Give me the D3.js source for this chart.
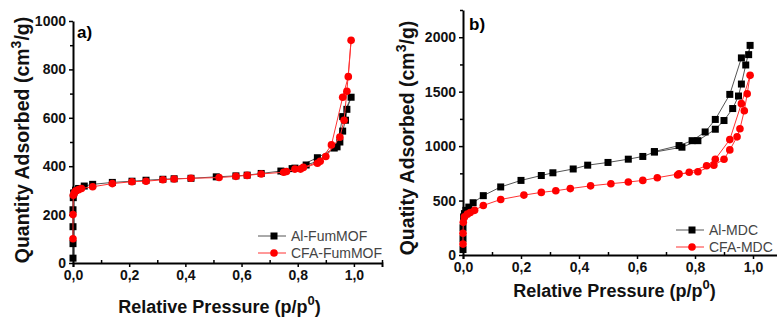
<!DOCTYPE html>
<html>
<head>
<meta charset="utf-8">
<script src="https://cdn.jsdelivr.net/npm/d3@7"></script>
<style>
  body { margin: 0; background: #fff; }
  svg { display: block; font-family: "Liberation Sans", Arial, sans-serif; }
</style>
</head>
<body>
<div class="canvas"></div>
<script>
// isotherm data, [p/p0, quantity] — adsorption then desorption branch
const alFumMOF = [
  [0.000, 20], [0.000, 80], [0.000, 150], [0.000, 220], [0.001, 270], [0.003, 290],
  [0.009, 301], [0.02, 308], [0.04, 318], [0.07, 325], [0.14, 333], [0.21, 338],
  [0.26, 342], [0.32, 346], [0.36, 348], [0.42, 350], [0.51, 356], [0.58, 360],
  [0.62, 363], [0.67, 370], [0.74, 380], [0.78, 390], [0.83, 405], [0.87, 420],
  [0.93, 475], [0.95, 500], [0.96, 545], [0.97, 590], [0.975, 635], [0.99, 685],
  [0.96, 605], [0.94, 480], [0.87, 435], [0.79, 392], [0.75, 378]
];
const cfaFumMOF = [
  [0.000, 100], [0.000, 200], [0.001, 280], [0.005, 290], [0.01, 298], [0.02, 303],
  [0.03, 308], [0.07, 315], [0.14, 328], [0.21, 336], [0.26, 338], [0.32, 344],
  [0.36, 347], [0.42, 350], [0.52, 353], [0.58, 358], [0.62, 362], [0.67, 368],
  [0.75, 375], [0.79, 388], [0.81, 388], [0.87, 412], [0.90, 440], [0.95, 520],
  [0.965, 590], [0.975, 710], [0.99, 920], [0.98, 770], [0.96, 685], [0.92, 488],
  [0.88, 420], [0.82, 395], [0.76, 378]
];
const alMDC = [
  [0.000, 50], [0.000, 150], [0.000, 250], [0.002, 350], [0.005, 380], [0.01, 410],
  [0.02, 440], [0.035, 480], [0.07, 545], [0.13, 625], [0.2, 685], [0.27, 730],
  [0.31, 755], [0.38, 790], [0.43, 825], [0.5, 850], [0.57, 880], [0.62, 905],
  [0.66, 945], [0.755, 990], [0.81, 1050], [0.87, 1155], [0.9, 1235], [0.93, 1345],
  [0.95, 1460], [0.96, 1570], [0.975, 1745], [0.99, 1925], [0.985, 1840], [0.96, 1810],
  [0.92, 1475], [0.87, 1245], [0.835, 1130], [0.79, 1050], [0.745, 1005], [0.66, 950]
];
const cfaMDC = [
  [0.000, 100], [0.000, 200], [0.001, 300], [0.005, 350], [0.015, 375], [0.025, 390],
  [0.04, 410], [0.07, 455], [0.13, 510], [0.21, 550], [0.27, 575], [0.32, 590],
  [0.37, 610], [0.44, 635], [0.51, 655], [0.57, 670], [0.62, 685], [0.67, 710],
  [0.745, 745], [0.81, 765], [0.865, 825], [0.9, 880], [0.92, 965], [0.945, 1085],
  [0.955, 1160], [0.97, 1325], [0.98, 1480], [0.99, 1650], [0.96, 1390], [0.92, 1060],
  [0.87, 880], [0.84, 820], [0.78, 760], [0.74, 735]
];

const xTicks = [0, 0.2, 0.4, 0.6, 0.8, 1.0];
const yTicksA = [0, 200, 400, 600, 800, 1000];
const yTicksB = [0, 500, 1000, 1500, 2000];

const svg = d3.select('.canvas')
  .append('svg')
    .attr('width', 777)
    .attr('height', 325);

const comma = d => d3.format('.1f')(d).replace('.', ',');

function drawPanel(p) {
  const x = d3.scaleLinear().domain([0, 1.1]).range([p.left, p.right]);
  const y = d3.scaleLinear().domain([0, p.yMax]).range([p.bottom, p.top]);

  const g = svg.append('g');

  // x axis
  const xAxis = g.append('g')
    .attr('transform', `translate(0,${p.bottom})`)
    .call(d3.axisBottom(x).tickValues(xTicks).tickFormat(comma).tickSize(4).tickPadding(3));
  g.append('g')
    .attr('transform', `translate(0,${p.bottom})`)
    .call(d3.axisBottom(x).tickValues([0.1, 0.3, 0.5, 0.7, 0.9, 1.1]).tickFormat('').tickSize(-3).tickSizeOuter(0))
    .call(a => a.select('.domain').remove());

  // y axis
  const yAxis = g.append('g')
    .attr('transform', `translate(${p.left},0)`)
    .call(d3.axisLeft(y).tickValues(p.yTicks).tickFormat(d3.format('d')).tickSize(4).tickSizeOuter(0).tickPadding(3));
  g.append('g')
    .attr('transform', `translate(${p.left},0)`)
    .call(d3.axisLeft(y).tickValues(p.yMinor).tickFormat('').tickSize(3).tickSizeOuter(0))
    .call(a => a.select('.domain').remove());

  [xAxis, yAxis].forEach(a => {
    a.select('.domain').attr('stroke', '#000').attr('stroke-width', 2);
    a.selectAll('text').attr('font-size', 14).attr('font-weight', 'bold').attr('fill', '#111')
      .attr('font-family', '"Liberation Sans", Arial, sans-serif');
  });
  g.selectAll('.tick line').attr('stroke', '#000').attr('stroke-width', 1.5);

  // series
  const line = d3.line().x(d => x(d[0])).y(d => y(d[1]));
  p.series.forEach(s => {
    g.append('path')
      .datum(s.data)
      .attr('fill', 'none')
      .attr('stroke', s.line)
      .attr('stroke-width', 1)
      .attr('d', line);
    if (s.shape === 'square') {
      g.selectAll(null).data(s.data).enter().append('rect')
        .attr('x', d => x(d[0]) - 3.5).attr('y', d => y(d[1]) - 3.5)
        .attr('width', 7).attr('height', 7)
        .attr('fill', s.color);
    } else {
      g.selectAll(null).data(s.data).enter().append('circle')
        .attr('cx', d => x(d[0])).attr('cy', d => y(d[1]))
        .attr('r', 3.8)
        .attr('fill', s.color);
    }
  });

  // legend
  p.series.forEach((s, i) => {
    const ly = p.legendY + i * 17;
    g.append('line')
      .attr('x1', p.legendX - 16).attr('x2', p.legendX + 12)
      .attr('y1', ly).attr('y2', ly)
      .attr('stroke', s.line).attr('stroke-width', 1);
    if (s.shape === 'square') {
      g.append('rect').attr('x', p.legendX - 3.5).attr('y', ly - 3.5)
        .attr('width', 7).attr('height', 7).attr('fill', s.color);
    } else {
      g.append('circle').attr('cx', p.legendX).attr('cy', ly).attr('r', 3.8).attr('fill', s.color);
    }
    g.append('text')
      .attr('x', p.legendX + 17).attr('y', ly + 5)
      .attr('font-size', 14).attr('fill', '#444')
      .text(s.name);
  });

  // panel letter
  g.append('text')
    .attr('x', p.letterX).attr('y', p.letterY)
    .attr('font-size', 17).attr('font-weight', 'bold')
    .text(p.letter);

  // x title
  const xt = g.append('text')
    .attr('x', (p.left + p.right) / 2 - 8).attr('y', p.xTitleY)
    .attr('text-anchor', 'middle')
    .attr('font-size', 18).attr('font-weight', 'bold').attr('fill', '#111');
  xt.append('tspan').text('Relative Pressure (p/p');
  xt.append('tspan').attr('dy', -8).attr('font-size', 13).text('0');
  xt.append('tspan').attr('dy', 8).text(')');

  // y title
  const yt = g.append('text')
    .attr('transform', `translate(${p.yTitleX},${p.yTitleY}) rotate(-90)`)
    .attr('text-anchor', 'middle')
    .attr('font-size', 19.5).attr('font-weight', 'bold').attr('fill', '#111');
  yt.append('tspan').text(p.yTitle + ' (cm');
  yt.append('tspan').attr('dy', -8).attr('font-size', 14).text('3');
  yt.append('tspan').attr('dy', 8).text('/g)');
}

drawPanel({
  left: 73, right: 382, top: 21, bottom: 263, yMax: 1000,
  yTicks: yTicksA, yMinor: [100, 300, 500, 700, 900],
  series: [
    { name: 'Al-FumMOF', data: alFumMOF, color: '#000', line: '#555', shape: 'square' },
    { name: 'CFA-FumMOF', data: cfaFumMOF, color: '#f00', line: '#f33', shape: 'circle' }
  ],
  legendX: 274, legendY: 236,
  letter: 'a)', letterX: 77, letterY: 38,
  xTitleY: 313,
  yTitle: 'Quantity Adsorbed', yTitleX: 29, yTitleY: 140
});

drawPanel({
  left: 463, right: 782, top: 10, bottom: 255, yMax: 2250,
  yTicks: yTicksB, yMinor: [250, 750, 1250, 1750, 2250],
  series: [
    { name: 'Al-MDC', data: alMDC, color: '#000', line: '#555', shape: 'square' },
    { name: 'CFA-MDC', data: cfaMDC, color: '#f00', line: '#f33', shape: 'circle' }
  ],
  legendX: 692, legendY: 230,
  letter: 'b)', letterX: 469, letterY: 30,
  xTitleY: 297,
  yTitle: 'Quatity Adsorbed', yTitleX: 414, yTitleY: 138
});
</script>
</body>
</html>
